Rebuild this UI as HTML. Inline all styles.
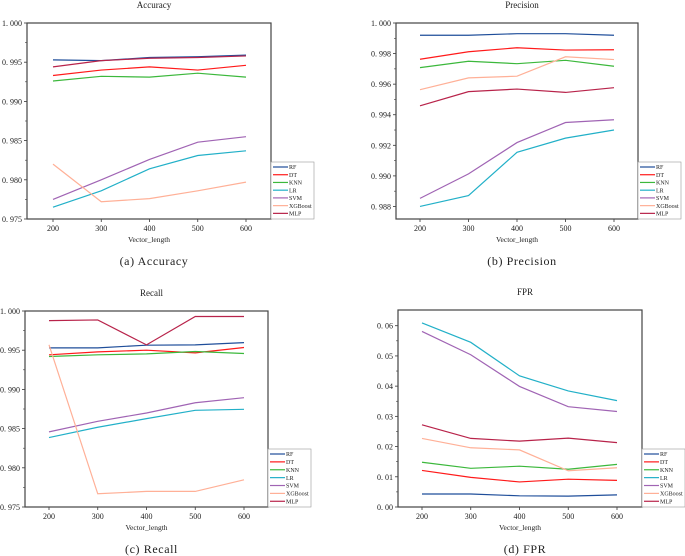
<!DOCTYPE html>
<html><head><meta charset="utf-8">
<style>
html,body{margin:0;padding:0;background:#fff;}
svg{display:block;font-family:"Liberation Serif",serif;}
</style></head>
<body>
<svg id="fig" width="685" height="556" viewBox="0 0 685 556" xmlns="http://www.w3.org/2000/svg"></svg>
<script>
const categories = [200, 300, 400, 500, 600];
const seriesNames = ["RF","DT","KNN","LR","SVM","XGBoost","MLP"];
const seriesColors = ["#1f4e9a","#ff1a1a","#3cb83c","#22b0c8","#a064b4","#ffb097","#b8234a"];

const accRF = [.9953,.9952,.9956,.9957,.9959];
const accDT = [.9933,.9940,.9944,.9940,.9946];
const accKNN = [.9926,.9932,.9931,.9936,.9931];
const accLR = [.9765,.9786,.9814,.9831,.9837];
const accSVM = [.9775,.9800,.9826,.9848,.9855];
const accXGB = [.9820,.9772,.9776,.9786,.9797];
const accMLP = [.9944,.9952,.9955,.9956,.9958];
const accTicks = ["0. 975","0. 980","0. 985","0. 990","0. 995","1. 000"];
const accTickVals = [.975,.98,.985,.99,.995,1.0];

const preRF = [.9992,.9992,.9993,.9993,.9992];
const preDT = [.99763,.99812,.99838,.99823,.99825];
const preKNN = [.99708,.9975,.99734,.99756,.99717];
const preLR = [.988,.98871,.99154,.99247,.993];
const preSVM = [.98853,.99013,.99218,.99349,.99367];
const preXGB = [.99564,.99641,.99652,.99779,.99761];
const preMLP = [.99458,.99551,.99568,.99546,.99577];
const preTicks = ["0. 988","0. 990","0. 992","0. 994","0. 996","0. 998","1. 000"];
const preTickVals = [.988,.99,.992,.994,.996,.998,1.0];

const recRF = [.9953,.9953,.99564,.99568,.99597];
const recDT = [.99441,.99479,.995,.99466,.99534];
const recKNN = [.9942,.99441,.99453,.99483,.99458];
const recLR = [.98386,.98517,.98627,.98733,.98746];
const recSVM = [.98458,.98593,.98699,.9883,.98894];
const recXGB = [.99568,.97669,.97699,.97699,.97847];
const recMLP = [.99877,.99886,.99568,.9993,.9993];
const recTicks = ["0. 975","0. 980","0. 985","0. 990","0. 995","1. 000"];
const recTickVals = [.975,.98,.985,.99,.995,1.0];

const fprRF = [.0043,.0043,.0037,.0036,.004];
const fprDT = [.0121,.0098,.0083,.0092,.0088];
const fprKNN = [.0148,.0128,.0135,.0125,.0141];
const fprLR = [.0609,.0545,.0434,.0384,.0352];
const fprSVM = [.0581,.0504,.0399,.0332,.0316];
const fprXGB = [.0227,.0196,.0189,.012,.013];
const fprMLP = [.0272,.0227,.0218,.0228,.0213];
const fprTicks = ["0. 00","0. 01","0. 02","0. 03","0. 04","0. 05","0. 06"];
const fprTickVals = [0,.01,.02,.03,.04,.05,.06];

const NS = "http://www.w3.org/2000/svg";
const svg = document.getElementById("fig");
function mk(tag, attrs, parent){
  const e = document.createElementNS(NS, tag);
  for (const k in attrs) e.setAttribute(k, attrs[k]);
  (parent||svg).appendChild(e);
  return e;
}
function txt(x,y,s,size,anchor,parent,name){
  const t = mk("text",{x:x,y:y,"font-size":size,"text-anchor":anchor||"middle",fill:"#222"},parent);
  
  
  t.textContent = s;
  return t;
}

function chart(cfg){
  const g = mk("g",{});
  
  
  const {L,R,T,B,ymin,ymax,x0,x1} = cfg;
  const xs = v => x0 + (v-200)/(400)*(x1-x0);
  const ys = v => B - (v-ymin)/(ymax-ymin)*(B-T);
  cfg.tickVals.forEach((v,i)=>{
    const y = ys(v);
    mk("line",{x1:L-3,x2:L,y1:y,y2:y,stroke:"#333","stroke-width":0.8},g);
    txt(L-5,y+3,cfg.ticks[i],8,"end",g,'y-tick-label');
    if(i<cfg.tickVals.length-1){
      const ym = ys((v+cfg.tickVals[i+1])/2);
      mk("line",{x1:L-2,x2:L,y1:ym,y2:ym,stroke:"#333","stroke-width":0.6},g);
    }
  });
  categories.forEach(c=>{
    const x = xs(c);
    mk("line",{x1:x,x2:x,y1:B,y2:B+3,stroke:"#333","stroke-width":0.8},g);
    txt(x,B+12,String(c),8,"middle",g,'x-tick-label');
  });
  cfg.data.forEach((arr,si)=>{
    const p = mk("polyline",{points:arr.map((v,i)=>xs(categories[i]).toFixed(2)+","+ys(v).toFixed(2)).join(" "),fill:"none",stroke:seriesColors[si],"stroke-width":1.2},g);
    
    
  });
  const box = mk("rect",{x:L,y:T,width:R-L,height:B-T,fill:"none",stroke:"#444","stroke-width":1.2},g);
  
  
  const lg = mk("g",{},g);
  
  
  const lh = B - cfg.legTop;
  mk("rect",{x:R,y:cfg.legTop,width:43,height:lh,fill:"#fff",stroke:"#999","stroke-width":0.6},lg);
  seriesNames.forEach((n,i)=>{
    const y = cfg.legTop + 5 + i*(lh-6)/6.6;
    const ln = mk("line",{x1:R+2,x2:R+17,y1:y,y2:y,stroke:seriesColors[i],"stroke-width":1.2},lg);
    
    
    txt(R+18,y+2.2,n,6,"start",lg,'legend-entry');
  });
  txt((L+R)/2+5, T-15, cfg.title, 9, "middle", g, 'chart-title');
  txt((L+R)/2, B+23, "Vector_length", 7.5, "middle", g, 'x-axis-title');
  const cap = txt((L+R)/2+5, B+46, cfg.caption, 12, "middle", g, 'caption');
  cap.setAttribute("letter-spacing", "0.6");
}

chart({id:"accuracy",L:27,R:271,T:23,B:219,ymin:.975,ymax:1.0,x0:53,x1:246,legTop:162,
  tickVals:accTickVals,ticks:accTicks,data:[accRF,accDT,accKNN,accLR,accSVM,accXGB,accMLP],
  title:"Accuracy",caption:"(a)  Accuracy"});
chart({id:"precision",L:396,R:638,T:23,B:219,ymin:.98718,ymax:1.0,x0:420,x1:614,legTop:162,
  tickVals:preTickVals,ticks:preTicks,data:[preRF,preDT,preKNN,preLR,preSVM,preXGB,preMLP],
  title:"Precision",caption:"(b)  Precision"});
chart({id:"recall",L:25,R:268,T:311,B:507,ymin:.975,ymax:1.0,x0:49,x1:244,legTop:449,
  tickVals:recTickVals,ticks:recTicks,data:[recRF,recDT,recKNN,recLR,recSVM,recXGB,recMLP],
  title:"Recall",caption:"(c)  Recall"});
chart({id:"fpr",L:398,R:642,T:310,B:507,ymin:0,ymax:.0652,x0:422,x1:617,legTop:449,
  tickVals:fprTickVals,ticks:fprTicks,data:[fprRF,fprDT,fprKNN,fprLR,fprSVM,fprXGB,fprMLP],
  title:"FPR",caption:"(d)  FPR"});
</script>
</body></html>
